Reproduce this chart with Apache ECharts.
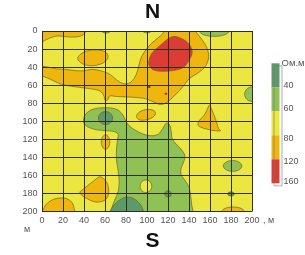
<!DOCTYPE html>
<html><head><meta charset="utf-8">
<script src="https://cdn.jsdelivr.net/npm/echarts@6/dist/echarts.min.js"></script>
<style>html,body{margin:0;padding:0;background:#fff}#c{width:305px;height:255px}</style>
</head><body><div id="c"></div>
<script>
// axis ticks (metres)
const xTicks = [0,20,40,60,80,100,120,140,160,180,200];
const yTicks = [0,20,40,60,80,100,120,140,160,180,200];
// legend (Ом.м)
const legendLabels = ['40','60','80','120','160'];

// contour regions, [x, y] in metres
// 80-120 Ом.м (orange)
const orangePolys = [
  [[-6,-6],[41,-6],[41,2],[38,5],[33,6.5],[24,6.5],[15,5.5],[7,8],[2,11],[-6,15]],
  [[34,30],[37,25.5],[43,22],[52,21],[60,23],[63,28],[61,33],[55,37],[46,38.5],[39,36.5],[35,33]],
  [[-6,39],[0,39],[8,40.5],[14,42],[22,42.5],[33,44],[40,44],[47,42.5],[56,44],[63,47],[67,50],[72,55],[78,58.5],[83.5,57.5],[88,52],[91,44],[92.5,37],[95,28],[99,21],[104,14],[110,8],[115,3],[118,-6],
   [144,-6],[146,0],[150,6],[155,14],[158,22],[158.5,31],[155,40],[148,47],[141,52],[136,59],[131,66],[125,73],[119,79],[113,81.5],[107,79],[100,75.5],[93,74],[80,73],[70,72.5],[64.5,72],[62.5,76.5],[60,77],[59,72],[56,67],[51,65],[43,63.5],[33,62],[24,60.5],[15,57.5],[8,53.5],[0,50],[-6,50]],
  [[90,95],[92,90.5],[97,87.5],[103,87],[107,88.5],[108,92],[105,96],[99,98.5],[93,98.5]],
  [[159.5,82],[162,88],[164.5,95],[166.5,102],[168,108],[170,110.5],[165,110.5],[158,109],[151,106.5],[148.5,104],[150,99],[154,94],[157,88]],
  [[-6,199],[0,199],[4,192],[10,187],[17,185],[24,186],[28.5,190],[30.5,196],[31,206],[-6,206]],
  [[55,161.5],[59.5,164.5],[62.5,170],[63.5,178],[62,185],[58,188.5],[51,189.5],[45,187],[38.5,182.5],[36,179],[39,175.5],[45,170],[50.5,165]]
];
// [cx, cy, rx, ry]
const orangeSpots = [[60.5,123,4,8],[182,200,10.5,5]];
// > 120 Ом.м (red)
const redPolys = [
  [[126.5,6],[134,9],[141,16],[143,24],[140.5,31.5],[136,39],[130.5,42.5],[119,44.5],[107,43.5],[102,38],[102.5,30],[105,24],[110,18.5],[116,12.5],[121.5,7.5]]
];
const redDots = [[102,62,1.3,1.2],[118,69.5,1.3,1.2]];
// 40-60 Ом.м (light green)
const greenPolys = [
  [[39.5,100.5],[40.5,94],[44,89.5],[49,86.5],[58,85],[67,85.5],[73,88],[77,93],[79.5,99],[83,105],[89,110],[97,114.5],[105,116],[111,114],[115,108],[118.5,102],[121.5,104],[123,111],[124,119],[127.5,125],[132.5,131],[136,138],[135,145],[132.5,152],[132.5,159],[136.5,166],[140,173],[141.5,182],[142.5,192],[143,206],
   [65,206],[66,198],[69,188],[72.5,178],[73.5,166],[72.5,155],[71,143],[71,130],[72,120],[72.5,114.5],[69,111.5],[61,110.5],[52,109.5],[45,107],[41,104]]
];
const greenSpots = [[164,0,14,6],[61,0,4,2.2],[100,0,4,2],[181.5,149.5,8.8,6],[200,70,7,8]];
// < 40 Ом.м (dark green)
const darkPolys = [
  [[64,206],[66,197],[70,191],[75,186.5],[81,184],[87,185.5],[92,190],[95,195],[97,206]]
];
const darkSpots = [[60.5,96.5,6.8,7.2],[120,180.5,3.2,3.5],[180,180.5,3.3,2.3]];
// 60-80 Ом.м holes inside green (yellow)
const yellowSpots = [[99,172,5.5,7]];

const C = {dg:'#5c9a69', g:'#8fc154', y:'#ebe640', o:'#efb60e', r:'#dc3c36'};
const STROKE = '#6e6128';
const FONT = 'Liberation Sans';

function polySeries(polys, fill){
  return {type:'custom', coordinateSystem:'cartesian2d', clip:true, z:2, silent:true,
    data: polys.map((p,i)=>[p[0][0],p[0][1],i]),
    renderItem:(params, api)=>{
      const pts = polys[params.dataIndex].map(q=>api.coord(q));
      return {type:'polygon', shape:{points:pts, smooth:0.35},
        style:{fill:fill, stroke:STROKE, lineWidth:0.7}};
    }};
}
function spotSeries(spots, fill, stroke){
  return {type:'custom', coordinateSystem:'cartesian2d', clip:true, z:2, silent:true,
    data: spots,
    renderItem:(params, api)=>{
      const c = api.coord([api.value(0), api.value(1)]);
      const s = api.size([api.value(2), api.value(3)]);
      return {type:'ellipse', shape:{cx:c[0], cy:c[1], rx:s[0], ry:s[1]},
        style:{fill:fill, stroke:stroke, lineWidth:stroke?0.7:0}};
    }};
}

const legendColors = [C.dg, C.g, C.y, C.o, C.r];
const legendGraphics = [];
legendColors.forEach((col,i)=>{
  legendGraphics.push({type:'rect', left:271.5, top:63.3+i*24, shape:{width:8, height:24}, style:{fill:col}});
});
legendGraphics.push({type:'rect', left:271.5, top:63.3, shape:{width:8, height:120}, style:{fill:'none', stroke:'#777', lineWidth:0.6}});
const legendY = [85.7,109.3,139.3,162.3,182.3];
legendLabels.forEach((t,i)=>{
  legendGraphics.push({type:'text', left:283.5, top:legendY[i]-5, style:{text:t, fill:'#555', font:'9px '+FONT}});
});
legendGraphics.push({type:'text', left:281.5, top:58, style:{text:'Ом.м', fill:'#555', font:'9.5px '+FONT}});

const chart = echarts.init(document.getElementById('c'), null, {renderer:'canvas'});
chart.setOption({
  animation:false,
  grid:{left:42, top:31, width:210, height:180.5, show:true, backgroundColor:C.y, borderWidth:0},
  xAxis:{type:'value', min:xTicks[0], max:xTicks[xTicks.length-1], interval:xTicks[1]-xTicks[0], z:10,
    axisLine:{show:false}, axisTick:{show:false},
    splitLine:{show:true, lineStyle:{color:'#2e2e22', width:1}},
    axisLabel:{margin:5, fontSize:9, color:'#555', fontFamily:FONT}},
  yAxis:{type:'value', inverse:true, min:yTicks[0], max:yTicks[yTicks.length-1], interval:yTicks[1]-yTicks[0], z:10,
    axisLine:{show:false}, axisTick:{show:false},
    splitLine:{show:true, lineStyle:{color:'#2e2e22', width:1}},
    axisLabel:{margin:4.5, fontSize:9, color:'#555', fontFamily:FONT}},
  series:[
    polySeries(orangePolys, C.o),
    spotSeries(orangeSpots, C.o, STROKE),
    polySeries(redPolys, C.r),
    spotSeries(redDots, '#9b3526', null),
    spotSeries(greenSpots, C.g, STROKE),
    polySeries(greenPolys, C.g),
    polySeries(darkPolys, C.dg),
    spotSeries(darkSpots, C.dg, STROKE),
    spotSeries(yellowSpots, C.y, STROKE)
  ],
  graphic:[
    {type:'text', left:'center', top:2, style:{text:'N', fill:'#111', font:'bold 21px '+FONT}},
    {type:'text', left:'center', top:231, style:{text:'S', fill:'#111', font:'bold 21px '+FONT}},
    {type:'text', left:24, top:225, style:{text:'м', fill:'#555', font:'9px '+FONT}},
    {type:'text', left:263, top:216, style:{text:', м', fill:'#555', font:'9px '+FONT}}
  ].concat(legendGraphics)
});
</script></body></html>
